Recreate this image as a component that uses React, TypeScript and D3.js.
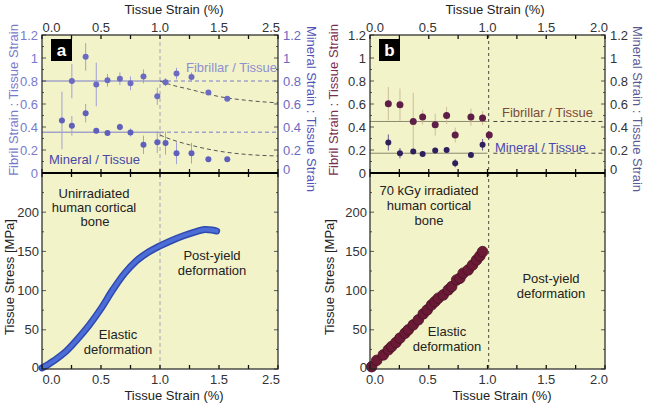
import React from "react";
import * as d3 from "d3";

// ---------- data ----------
const xTickValues = [0, 0.5, 1, 1.5, 2];
const xTickLabelsA = ["0.0", "0.5", "1.0", "1.5", "2.5"];
const xTickLabelsB = ["0.0", "0.5", "1.0", "1.5", "2.0"];
const ratioTicks = [0, 0.2, 0.4, 0.6, 0.8, 1, 1.2];
const ratioTickLabels = ["0", "0.2", "0.4", "0.6", "0.8", "1", "1.2"];
const stressTicks = [0, 50, 100, 150, 200];
const stressTickLabels = ["0", "50", "100", "150", "200"];

// Panel a – unirradiated
const fibStrainA = [0.253, 0.37, 0.46, 0.555, 0.66, 0.75, 0.86, 0.977, 1.047, 1.14, 1.267, 1.41, 1.57];
const fibRatioA = [0.80, 1.01, 0.77, 0.806, 0.82, 0.78, 0.84, 0.667, 0.79, 0.865, 0.835, 0.70, 0.645];
const fibErrA = [0.15, 0.12, 0.19, 0.055, 0.055, 0.06, 0.06, 0.075, 0.035, 0.05, 0.04, 0, 0];
const minStrainA = [0.169, 0.253, 0.37, 0.46, 0.555, 0.66, 0.75, 0.86, 0.977, 1.047, 1.14, 1.267, 1.41, 1.57];
const minRatioA = [0.457, 0.41, 0.52, 0.367, 0.347, 0.40, 0.352, 0.245, 0.268, 0.26, 0.172, 0.172, 0.12, 0.12];
const minErrA = [0.25, 0.085, 0.08, 0.025, 0.02, 0.03, 0.035, 0.08, 0.095, 0.1, 0.095, 0.09, 0, 0];
const fibLevelA = 0.8;
const minLevelA = 0.355;
const fitDecayStrainA = [1.0, 1.1, 1.25, 1.5, 1.75, 2.0];
const fibDecayA = [0.8, 0.765, 0.728, 0.665, 0.63, 0.61];
const minDecayA = [0.33, 0.29, 0.245, 0.19, 0.16, 0.148];
const curveStrainA = [0.0, 0.05, 0.1, 0.15, 0.2, 0.3, 0.4, 0.5, 0.6, 0.7, 0.8, 0.9, 1.0, 1.1, 1.2, 1.3, 1.38, 1.45, 1.48];
const curveStressA = [1.5, 5.5, 10.5, 16, 22, 38, 56, 77, 101, 122, 138, 149, 157, 164, 170, 175, 178, 177, 176];

// Panel b – 70 kGy irradiated
const fibStrainB = [0.156, 0.255, 0.368, 0.448, 0.555, 0.652, 0.725, 0.859, 0.958, 1.015];
const fibRatioB = [0.603, 0.594, 0.448, 0.486, 0.42, 0.50, 0.33, 0.486, 0.478, 0.33];
const fibErrB = [0.145, 0.14, 0.25, 0.065, 0.095, 0.075, 0.065, 0.075, 0.06, 0];
const minStrainB = [0.156, 0.255, 0.368, 0.448, 0.555, 0.652, 0.725, 0.859, 0.958];
const minRatioB = [0.265, 0.172, 0.186, 0.166, 0.195, 0.20, 0.085, 0.157, 0.245];
const minErrB = [0.07, 0.045, 0.015, 0.012, 0.012, 0.02, 0.035, 0.02, 0.05];
const fibLevelB = 0.448;
const minLevelB = 0.172;
const curveStrainB = [0.014, 0.057, 0.113, 0.156, 0.184, 0.221, 0.255, 0.298, 0.326, 0.368, 0.411, 0.453, 0.487, 0.524, 0.553, 0.581, 0.623, 0.666, 0.695, 0.737, 0.765, 0.793, 0.836, 0.873, 0.907, 0.935, 0.958];
const curveStressB = [3, 11, 18, 24.5, 28.7, 33.8, 39.4, 45.7, 50, 56.3, 62.7, 70.3, 75.4, 81.8, 86, 90.3, 94.5, 100.9, 105.1, 113.6, 115.8, 122.2, 126.4, 132.7, 139.1, 144.2, 149.7];

const FONT = "'Liberation Sans', Arial, Helvetica, sans-serif";
const BG = "#f3f3c9";

type PanelProps = {
  x0: number; x1: number; letter: string; xLabels: string[]; xLabelShift: number[];
  yieldX: number; yieldColor: string; yieldDash: string;
  leftTitleColor: string; rightTitleColor: string;
  leftTickColor: string; rightTickColor: string;
  leftTitleX: number; rightTitleX: number;
  topTitleX: number; bottomTitleX: number;
};

const TOP = 35, MID = 173, BOT = 369;

function Frame(p: PanelProps & { children?: React.ReactNode }) {
  const x = d3.scaleLinear().domain([0, 2]).range([p.x0, p.x1]);
  const yr = d3.scaleLinear().domain([0, 1.2]).range([MID, TOP]);
  const ys = d3.scaleLinear().domain([0, 250]).range([BOT, MID]);
  const minorX = d3.range(0, 2.001, 0.25);
  const minorR = d3.range(0, 1.201, 0.1);
  const minorS = d3.range(0, 250, 25);
  const tl = 4;
  return (
    <g fontFamily={FONT}>
      <rect x={p.x0} y={TOP} width={p.x1 - p.x0} height={BOT - TOP} fill={BG} />
      <line x1={x(p.yieldX)} x2={x(p.yieldX)} y1={TOP} y2={BOT} stroke={p.yieldColor} strokeDasharray={p.yieldDash} strokeWidth={1} />
      {p.children}
      {/* ticks */}
      {minorX.map((v, i) => (
        <g key={"tx" + i} stroke="#111" strokeWidth={1.3}>
          <line x1={x(v)} x2={x(v)} y1={TOP} y2={TOP + tl} />
          <line x1={x(v)} x2={x(v)} y1={MID - tl} y2={MID + tl} />
          <line x1={x(v)} x2={x(v)} y1={BOT} y2={BOT - tl} />
        </g>
      ))}
      {minorR.map((v, i) => (
        <g key={"tr" + i} stroke="#333" strokeWidth={0.8}>
          <line x1={p.x0} x2={p.x0 + (i % 2 === 0 ? tl : 2)} y1={yr(v)} y2={yr(v)} />
          <line x1={p.x1} x2={p.x1 - (i % 2 === 0 ? tl : 2)} y1={yr(v)} y2={yr(v)} />
        </g>
      ))}
      {minorS.map((v, i) => (
        <g key={"ts" + i} stroke="#333" strokeWidth={0.8}>
          <line x1={p.x0} x2={p.x0 + (i % 2 === 0 ? tl : 2)} y1={ys(v)} y2={ys(v)} />
          <line x1={p.x1} x2={p.x1 - (i % 2 === 0 ? tl : 2)} y1={ys(v)} y2={ys(v)} />
        </g>
      ))}
      <rect x={p.x0} y={TOP} width={p.x1 - p.x0} height={BOT - TOP} fill="none" stroke="#222" strokeWidth={1.2} />
      <line x1={p.x0} x2={p.x1} y1={MID} y2={MID} stroke="#000" strokeWidth={2} />
      {/* x tick labels */}
      {xTickValues.map((v, i) => (
        <g key={"xl" + i} fontSize={13} fill="#333" textAnchor="middle">
          <text x={x(v) + p.xLabelShift[i]} y={32}>{p.xLabels[i]}</text>
          <text x={x(v) + p.xLabelShift[i]} y={384}>{p.xLabels[i]}</text>
        </g>
      ))}
      {ratioTicks.map((v, i) => (
        <g key={"rl" + i} fontSize={13}>
          <text x={p.x0 - 4} y={yr(v)} dy="0.36em" textAnchor="end" fill={p.leftTickColor}>{ratioTickLabels[i]}</text>
          <text x={p.x1 + 5} y={yr(v) - (v === 0 ? 4 : 0)} dy="0.36em" textAnchor="start" fill={p.rightTickColor}>{ratioTickLabels[i]}</text>
        </g>
      ))}
      {stressTicks.map((v, i) => (
        <text key={"sl" + i} x={p.x0 - 3} y={ys(v) - (v === 0 ? 2 : 0)} dy="0.36em" fontSize={13} textAnchor="end" fill="#333">{stressTickLabels[i]}</text>
      ))}
      {/* titles */}
      <text x={p.topTitleX} y={14} textAnchor="middle" fontSize={13} fill="#222">Tissue Strain (%)</text>
      <text x={p.bottomTitleX} y={400} textAnchor="middle" fontSize={13} fill="#222">Tissue Strain (%)</text>
      <text transform={`translate(${p.leftTitleX},100) rotate(-90)`} textAnchor="middle" dominantBaseline="central" fontSize={13} fill={p.leftTitleColor}>Fibril Strain : Tissue Strain</text>
      <text transform={`translate(${p.rightTitleX},109) rotate(90)`} textAnchor="middle" dominantBaseline="central" fontSize={13} fill={p.rightTitleColor}>Mineral Strain : Tissue Strain</text>
      <text transform={`translate(${p.leftTitleX - 4},277) rotate(-90)`} textAnchor="middle" dominantBaseline="central" fontSize={13} fill="#222">Tissue Stress [MPa]</text>
      {/* letter box */}
      <rect x={p.x0 + 9} y={39} width={21} height={22} fill="#000" />
      <text x={p.x0 + 19.5} y={55.5} textAnchor="middle" fontSize={17} fontWeight="bold" fill="#fff">{p.letter}</text>
    </g>
  );
}

function ErrorPoints(props: { xs: number[]; ys: number[]; errs: number[]; x: any; y: any; color: string; errColor: string; r: number }) {
  const { xs, ys, errs, x, y } = props;
  return (
    <g>
      {xs.map((v, i) => errs[i] > 0 ? (
        <line key={"e" + i} x1={x(v)} x2={x(v)} y1={y(ys[i] - errs[i])} y2={y(ys[i] + errs[i])} stroke={props.errColor} strokeWidth={1} />
      ) : null)}
      {xs.map((v, i) => (
        <circle key={"c" + i} cx={x(v)} cy={y(ys[i])} r={props.r} fill={props.color} />
      ))}
    </g>
  );
}

function PanelA() {
  const x0 = 42, x1 = 278;
  const x = d3.scaleLinear().domain([0, 2]).range([x0, x1]);
  const yr = d3.scaleLinear().domain([0, 1.2]).range([MID, TOP]);
  const ys = d3.scaleLinear().domain([0, 250]).range([BOT, MID]);
  const fitLine = d3.line<number>().x((d, i) => x(fitDecayStrainA[i])).curve(d3.curveMonotoneX);
  const stressLine = d3.line<number>().x((d, i) => x(curveStrainA[i])).y((d) => ys(d)).curve(d3.curveCatmullRom.alpha(0.5));
  const lineC = "#7a7acc";
  return (
    <Frame x0={x0} x1={x1} letter="a" xLabels={xTickLabelsA} xLabelShift={[9.5, 0, 0, 0, -7]} yieldX={1.0} yieldColor="#a4a4b4" yieldDash="4,3"
      leftTitleColor="#7a7acc" rightTitleColor="#5353b8" leftTickColor="#7a7acc" rightTickColor="#6a6ac4"
      leftTitleX={13} rightTitleX={311} topTitleX={174} bottomTitleX={174}>
      <line x1={x0} x2={x(1.0)} y1={yr(fibLevelA)} y2={yr(fibLevelA)} stroke={lineC} strokeWidth={1} />
      <line x1={x(1.0)} x2={x1} y1={yr(fibLevelA)} y2={yr(fibLevelA)} stroke={lineC} strokeWidth={1} strokeDasharray="4,3" />
      <line x1={x0} x2={x(1.0)} y1={yr(minLevelA)} y2={yr(minLevelA)} stroke={lineC} strokeWidth={1} />
      <line x1={x(1.0)} x2={x1} y1={yr(minLevelA)} y2={yr(minLevelA)} stroke={lineC} strokeWidth={1} strokeDasharray="4,3" />
      <path d={fitLine.y((d) => yr(d))(fibDecayA) || ""} fill="none" stroke="#555" strokeWidth={1} strokeDasharray="4,3" />
      <path d={fitLine.y((d) => yr(d))(minDecayA) || ""} fill="none" stroke="#555" strokeWidth={1} strokeDasharray="4,3" />
      <ErrorPoints xs={fibStrainA} ys={fibRatioA} errs={fibErrA} x={x} y={yr} color="#6b6bc2" errColor="#a0a0d4" r={3} />
      <ErrorPoints xs={minStrainA} ys={minRatioA} errs={minErrA} x={x} y={yr} color="#5f5fbc" errColor="#a0a0d4" r={3} />
      <text x={277} y={72} textAnchor="end" fontSize={13} fill="#8e8ed2">Fibrillar / Tissue</text>
      <text x={49} y={164} textAnchor="start" fontSize={13} fill="#4848a8">Mineral / Tissue</text>
      <path d={stressLine(curveStressA) || ""} fill="none" stroke="#2e4ab0" strokeWidth={7} strokeLinecap="round" />
      <path d={stressLine(curveStressA) || ""} fill="none" stroke="#4c6cd6" strokeWidth={4} strokeLinecap="round" />
      <g fontSize={13} fill="#222" textAnchor="middle">
        <text x={94} y={198}>Unirradiated</text>
        <text x={94} y={212}>human cortical</text>
        <text x={95} y={226}>bone</text>
        <text x={212} y={260}>Post-yield</text>
        <text x={212} y={275}>deformation</text>
        <text x={118} y={339}>Elastic</text>
        <text x={118} y={354}>deformation</text>
      </g>
    </Frame>
  );
}

function PanelB() {
  const x0 = 370, x1 = 605;
  const x = d3.scaleLinear().domain([0, 2]).range([x0, x1]);
  const yr = d3.scaleLinear().domain([0, 1.2]).range([MID, TOP]);
  const ys = d3.scaleLinear().domain([0, 250]).range([BOT, MID]);
  const lineC = "#8a8a70";
  return (
    <Frame x0={x0} x1={x1} letter="b" xLabels={xTickLabelsB} xLabelShift={[5, -1, 0, 0, -6]} yieldX={1.01} yieldColor="#4a4a3a" yieldDash="3,3"
      leftTitleColor="#7a2e4e" rightTitleColor="#5a5a92" leftTickColor="#333" rightTickColor="#333"
      leftTitleX={333} rightTitleX={637} topTitleX={495} bottomTitleX={502}>
      <line x1={x0} x2={x(1.0)} y1={yr(fibLevelB)} y2={yr(fibLevelB)} stroke={lineC} strokeWidth={1} />
      <line x1={x(1.05)} x2={x1} y1={yr(fibLevelB)} y2={yr(fibLevelB)} stroke="#444" strokeWidth={1} strokeDasharray="4,3" />
      <line x1={x0} x2={x(1.0)} y1={yr(minLevelB)} y2={yr(minLevelB)} stroke={lineC} strokeWidth={1} />
      <line x1={x(1.05)} x2={x1} y1={yr(minLevelB)} y2={yr(minLevelB)} stroke="#444" strokeWidth={1} strokeDasharray="4,3" />
      <ErrorPoints xs={fibStrainB} ys={fibRatioB} errs={fibErrB} x={x} y={yr} color="#5e1e48" errColor="#cbbd9c" r={3.5} />
      <ErrorPoints xs={minStrainB} ys={minRatioB} errs={minErrB} x={x} y={yr} color="#2f1f5c" errColor="#6a5a8a" r={3} />
      <text x={593} y={117} textAnchor="end" fontSize={13} fill="#7c4a3a">Fibrillar / Tissue</text>
      <text x={586} y={152} textAnchor="end" fontSize={13} fill="#4747b4">Mineral / Tissue</text>
      {curveStressB.map((s, i) => (
        <circle key={i} cx={x(curveStrainB[i])} cy={ys(s)} r={5.3} fill="#6b1a36" stroke="#4a0f24" strokeWidth={0.8} />
      ))}
      <g fontSize={13} fill="#222" textAnchor="middle">
        <text x={429} y={195}>70 kGy irradiated</text>
        <text x={429} y={210}>human cortical</text>
        <text x={429} y={225}>bone</text>
        <text x={551} y={283}>Post-yield</text>
        <text x={551} y={298}>deformation</text>
        <text x={447} y={336}>Elastic</text>
        <text x={447} y={351}>deformation</text>
      </g>
    </Frame>
  );
}

export default function App() {
  return (
    <svg width={645} height={406} style={{ position: "absolute", left: 0, top: 0, background: "#fff" }}>
      <rect width={645} height={406} fill="#fff" />
      <PanelA />
      <PanelB />
    </svg>
  );
}
